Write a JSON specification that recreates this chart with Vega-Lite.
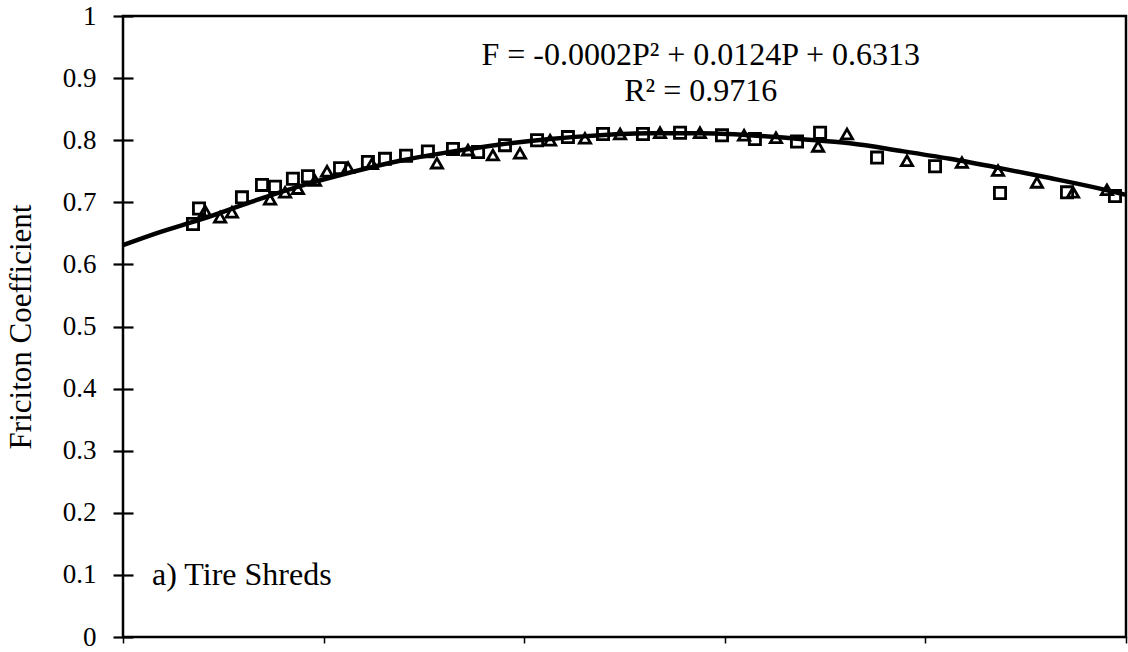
{
  "$schema": "https://vega.github.io/schema/vega-lite/v6.json",
  "width": 1003,
  "height": 621,
  "autosize": "none",
  "padding": {"left": 123, "top": 16, "right": 2, "bottom": 15},
  "background": "white",
  "config": {
    "view": {"stroke": "black", "strokeWidth": 2.5},
    "font": "Liberation Serif",
    "axis": {"grid": false, "domain": false, "tickColor": "black", "labelColor": "black", "titleColor": "black"}
  },
  "datasets": {
    "friction": [
      {"test": "Test 1", "P": 3.49, "F": 0.665},
      {"test": "Test 1", "P": 3.79, "F": 0.690},
      {"test": "Test 1", "P": 5.93, "F": 0.708},
      {"test": "Test 1", "P": 6.93, "F": 0.728},
      {"test": "Test 1", "P": 7.58, "F": 0.725},
      {"test": "Test 1", "P": 8.47, "F": 0.738},
      {"test": "Test 1", "P": 9.22, "F": 0.742},
      {"test": "Test 1", "P": 10.82, "F": 0.755},
      {"test": "Test 1", "P": 12.21, "F": 0.765},
      {"test": "Test 1", "P": 13.06, "F": 0.770},
      {"test": "Test 1", "P": 14.11, "F": 0.775},
      {"test": "Test 1", "P": 15.20, "F": 0.782},
      {"test": "Test 1", "P": 16.45, "F": 0.786},
      {"test": "Test 1", "P": 17.70, "F": 0.781},
      {"test": "Test 1", "P": 19.04, "F": 0.792},
      {"test": "Test 1", "P": 20.64, "F": 0.800},
      {"test": "Test 1", "P": 22.18, "F": 0.805},
      {"test": "Test 1", "P": 23.93, "F": 0.810},
      {"test": "Test 1", "P": 25.92, "F": 0.810},
      {"test": "Test 1", "P": 27.77, "F": 0.812},
      {"test": "Test 1", "P": 29.86, "F": 0.808},
      {"test": "Test 1", "P": 31.50, "F": 0.802},
      {"test": "Test 1", "P": 33.60, "F": 0.798},
      {"test": "Test 1", "P": 34.75, "F": 0.812},
      {"test": "Test 1", "P": 37.59, "F": 0.772},
      {"test": "Test 1", "P": 40.48, "F": 0.758},
      {"test": "Test 1", "P": 43.72, "F": 0.715},
      {"test": "Test 1", "P": 47.06, "F": 0.716},
      {"test": "Test 1", "P": 49.45, "F": 0.710},
      {"test": "Test 2", "P": 4.09, "F": 0.686},
      {"test": "Test 2", "P": 4.84, "F": 0.676},
      {"test": "Test 2", "P": 5.43, "F": 0.684},
      {"test": "Test 2", "P": 7.33, "F": 0.705},
      {"test": "Test 2", "P": 8.08, "F": 0.716},
      {"test": "Test 2", "P": 8.72, "F": 0.722},
      {"test": "Test 2", "P": 9.57, "F": 0.735},
      {"test": "Test 2", "P": 10.17, "F": 0.750},
      {"test": "Test 2", "P": 11.22, "F": 0.756},
      {"test": "Test 2", "P": 12.41, "F": 0.762},
      {"test": "Test 2", "P": 15.65, "F": 0.763},
      {"test": "Test 2", "P": 17.20, "F": 0.784},
      {"test": "Test 2", "P": 18.44, "F": 0.776},
      {"test": "Test 2", "P": 19.79, "F": 0.779},
      {"test": "Test 2", "P": 21.29, "F": 0.800},
      {"test": "Test 2", "P": 23.03, "F": 0.803},
      {"test": "Test 2", "P": 24.78, "F": 0.810},
      {"test": "Test 2", "P": 26.77, "F": 0.812},
      {"test": "Test 2", "P": 28.76, "F": 0.812},
      {"test": "Test 2", "P": 30.96, "F": 0.808},
      {"test": "Test 2", "P": 32.55, "F": 0.804},
      {"test": "Test 2", "P": 34.65, "F": 0.790},
      {"test": "Test 2", "P": 36.09, "F": 0.810},
      {"test": "Test 2", "P": 39.08, "F": 0.767},
      {"test": "Test 2", "P": 41.82, "F": 0.764},
      {"test": "Test 2", "P": 43.62, "F": 0.751},
      {"test": "Test 2", "P": 45.56, "F": 0.732},
      {"test": "Test 2", "P": 47.36, "F": 0.716},
      {"test": "Test 2", "P": 49.05, "F": 0.720}
    ],
    "trend": [
      {"P": 0, "F": 0.631},
      {"P": 1.84, "F": 0.652},
      {"P": 3.84, "F": 0.672},
      {"P": 6.33, "F": 0.700},
      {"P": 8.82, "F": 0.726},
      {"P": 11.32, "F": 0.748},
      {"P": 13.81, "F": 0.767},
      {"P": 16.30, "F": 0.781},
      {"P": 18.79, "F": 0.793},
      {"P": 21.29, "F": 0.802},
      {"P": 23.78, "F": 0.808},
      {"P": 26.27, "F": 0.811},
      {"P": 28.76, "F": 0.811},
      {"P": 31.26, "F": 0.808},
      {"P": 33.75, "F": 0.802},
      {"P": 36.24, "F": 0.795},
      {"P": 38.73, "F": 0.783},
      {"P": 41.23, "F": 0.770},
      {"P": 43.72, "F": 0.755},
      {"P": 46.21, "F": 0.739},
      {"P": 48.70, "F": 0.722},
      {"P": 50, "F": 0.712}
    ],
    "notes": [
      {"note": "fit", "label": "F = -0.0002P² + 0.0124P + 0.6313"},
      {"note": "r2", "label": "R² = 0.9716"},
      {"note": "panel", "label": "a) Tire Shreds"}
    ]
  },
  "layer": [
    {
      "data": {"name": "friction"},
      "mark": {"type": "point", "filled": false, "stroke": "black", "strokeWidth": 2.8, "size": 125, "opacity": 1},
      "encoding": {
        "x": {
          "field": "P", "type": "quantitative",
          "scale": {"domain": [0, 50], "nice": false},
          "axis": {"values": [0, 10, 20, 30, 40, 50], "labels": false, "tickSize": 6, "tickWidth": 1.5, "title": null}
        },
        "y": {
          "field": "F", "type": "quantitative",
          "scale": {"domain": [0, 1], "nice": false},
          "axis": {
            "values": [0, 0.1, 0.2, 0.3, 0.4, 0.5, 0.6, 0.7, 0.8, 0.9, 1],
            "format": ".1~f",
            "offset": -10,
            "tickSize": 20,
            "tickWidth": 2.2,
            "labelPadding": 17,
            "labelFontSize": 27,
            "title": "Friciton Coefficient",
            "titleFontSize": 31,
            "titleFontWeight": "normal",
            "titlePadding": 25
          }
        },
        "shape": {
          "field": "test", "type": "nominal",
          "scale": {"domain": ["Test 1", "Test 2"], "range": ["square", "triangle-up"]},
          "legend": null
        }
      }
    },
    {
      "data": {"name": "trend"},
      "mark": {"type": "line", "color": "black", "strokeWidth": 4.5, "interpolate": "monotone"},
      "encoding": {
        "x": {"field": "P", "type": "quantitative"},
        "y": {"field": "F", "type": "quantitative"}
      }
    },
    {
      "data": {"name": "notes"},
      "transform": [{"filter": "datum.note === 'fit'"}],
      "mark": {"type": "text", "fontSize": 32, "align": "center", "baseline": "middle", "color": "black"},
      "encoding": {
        "x": {"datum": 28.8},
        "y": {"datum": 0.937},
        "text": {"field": "label"}
      }
    },
    {
      "data": {"name": "notes"},
      "transform": [{"filter": "datum.note === 'r2'"}],
      "mark": {"type": "text", "fontSize": 32, "align": "center", "baseline": "middle", "color": "black"},
      "encoding": {
        "x": {"datum": 28.8},
        "y": {"datum": 0.880},
        "text": {"field": "label"}
      }
    },
    {
      "data": {"name": "notes"},
      "transform": [{"filter": "datum.note === 'panel'"}],
      "mark": {"type": "text", "fontSize": 32, "align": "left", "baseline": "middle", "color": "black"},
      "encoding": {
        "x": {"datum": 1.45},
        "y": {"datum": 0.1},
        "text": {"field": "label"}
      }
    }
  ]
}
